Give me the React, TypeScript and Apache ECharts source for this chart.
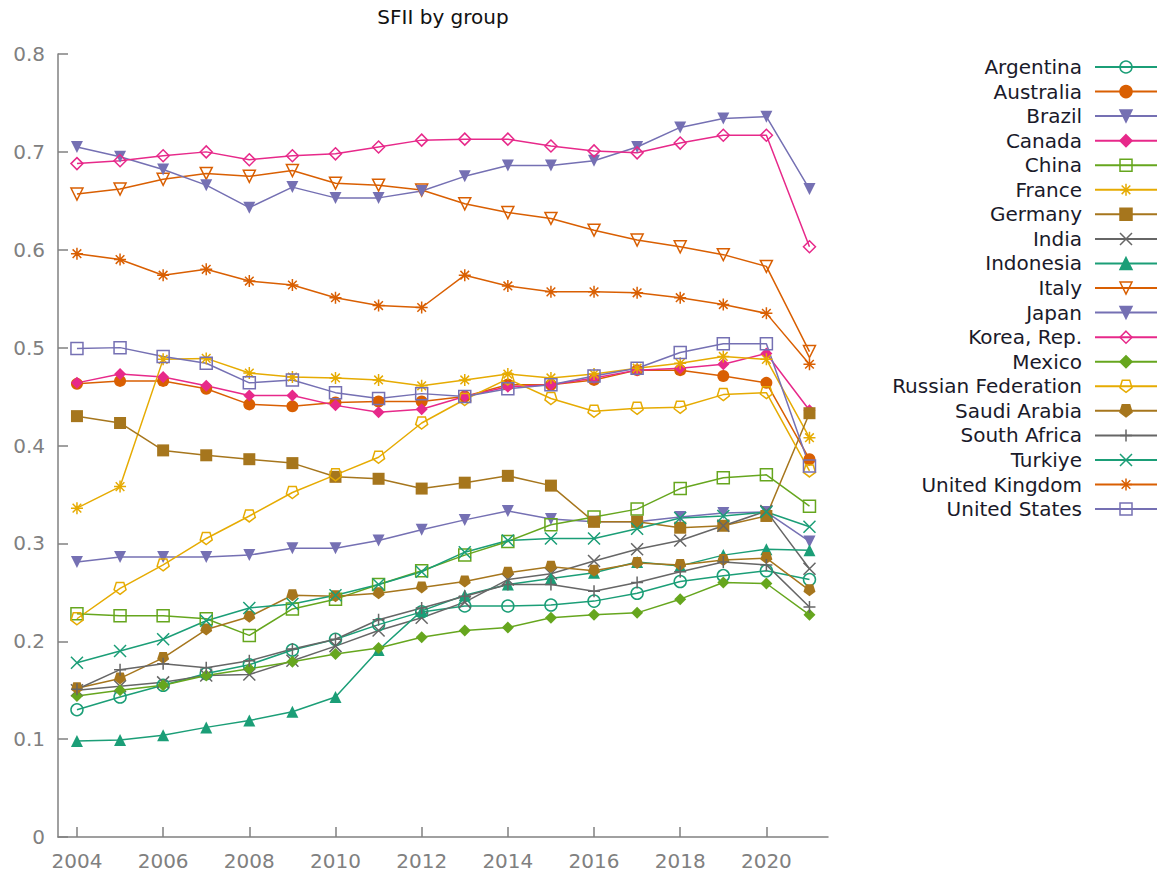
import React, { useEffect, useRef } from 'react';
import * as echarts from 'echarts';

const years = [2004, 2005, 2006, 2007, 2008, 2009, 2010, 2011, 2012, 2013, 2014, 2015, 2016, 2017, 2018, 2019, 2020, 2021];
const xTickValues = [2004, 2006, 2008, 2010, 2012, 2014, 2016, 2018, 2020];

const argentina = [0.130, 0.143, 0.155, 0.167, 0.176, 0.191, 0.202, 0.217, 0.230, 0.236, 0.236, 0.237, 0.241, 0.249, 0.261, 0.267, 0.272, 0.263];
const australia = [0.463, 0.466, 0.466, 0.458, 0.442, 0.440, 0.444, 0.445, 0.445, 0.450, 0.462, 0.462, 0.467, 0.477, 0.477, 0.471, 0.464, 0.386];
const brazil = [0.281, 0.286, 0.286, 0.286, 0.288, 0.295, 0.295, 0.303, 0.314, 0.324, 0.333, 0.325, 0.322, 0.322, 0.327, 0.331, 0.332, 0.302];
const canada = [0.464, 0.473, 0.470, 0.461, 0.451, 0.451, 0.441, 0.434, 0.437, 0.450, 0.460, 0.462, 0.469, 0.477, 0.479, 0.483, 0.494, 0.436];
const china = [0.228, 0.226, 0.226, 0.223, 0.206, 0.233, 0.243, 0.258, 0.272, 0.288, 0.302, 0.319, 0.327, 0.335, 0.356, 0.367, 0.370, 0.338];
const france = [0.336, 0.358, 0.488, 0.489, 0.474, 0.470, 0.469, 0.467, 0.461, 0.467, 0.473, 0.469, 0.473, 0.479, 0.484, 0.491, 0.488, 0.408];
const germany = [0.430, 0.423, 0.395, 0.390, 0.386, 0.382, 0.368, 0.366, 0.356, 0.362, 0.369, 0.359, 0.322, 0.322, 0.316, 0.318, 0.328, 0.433];
const india = [0.150, 0.154, 0.158, 0.165, 0.166, 0.180, 0.195, 0.211, 0.224, 0.240, 0.263, 0.269, 0.282, 0.294, 0.303, 0.318, 0.333, 0.274];
const indonesia = [0.098, 0.099, 0.104, 0.112, 0.119, 0.128, 0.143, 0.191, 0.231, 0.247, 0.258, 0.264, 0.270, 0.281, 0.277, 0.288, 0.294, 0.293];
const italy = [0.657, 0.662, 0.672, 0.678, 0.675, 0.681, 0.668, 0.666, 0.661, 0.647, 0.638, 0.632, 0.620, 0.610, 0.603, 0.595, 0.583, 0.496];
const japan = [0.705, 0.695, 0.682, 0.666, 0.643, 0.664, 0.653, 0.653, 0.660, 0.675, 0.686, 0.686, 0.691, 0.705, 0.725, 0.734, 0.736, 0.662];
const korea = [0.688, 0.691, 0.696, 0.700, 0.692, 0.696, 0.698, 0.705, 0.712, 0.713, 0.713, 0.706, 0.701, 0.699, 0.709, 0.717, 0.717, 0.603];
const mexico = [0.144, 0.150, 0.155, 0.165, 0.172, 0.179, 0.187, 0.193, 0.204, 0.211, 0.214, 0.224, 0.227, 0.229, 0.243, 0.260, 0.259, 0.227];
const russia = [0.223, 0.254, 0.278, 0.305, 0.328, 0.352, 0.370, 0.388, 0.423, 0.447, 0.468, 0.448, 0.435, 0.438, 0.439, 0.452, 0.454, 0.374];
const saudi = [0.152, 0.162, 0.183, 0.212, 0.225, 0.247, 0.246, 0.249, 0.255, 0.261, 0.270, 0.276, 0.272, 0.280, 0.278, 0.283, 0.285, 0.252];
const southAfrica = [0.151, 0.171, 0.177, 0.173, 0.180, 0.192, 0.202, 0.222, 0.234, 0.246, 0.258, 0.258, 0.251, 0.260, 0.271, 0.281, 0.278, 0.235];
const turkiye = [0.178, 0.190, 0.202, 0.221, 0.234, 0.238, 0.247, 0.258, 0.271, 0.291, 0.303, 0.305, 0.305, 0.315, 0.326, 0.328, 0.332, 0.317];
const uk = [0.596, 0.590, 0.574, 0.580, 0.568, 0.564, 0.551, 0.543, 0.541, 0.574, 0.563, 0.557, 0.557, 0.556, 0.551, 0.544, 0.535, 0.483];
const us = [0.499, 0.500, 0.491, 0.484, 0.464, 0.467, 0.454, 0.448, 0.453, 0.450, 0.458, 0.462, 0.471, 0.479, 0.495, 0.504, 0.504, 0.379];

const seriesNames = ['Argentina', 'Australia', 'Brazil', 'Canada', 'China', 'France', 'Germany', 'India', 'Indonesia', 'Italy', 'Japan', 'Korea, Rep.', 'Mexico', 'Russian Federation', 'Saudi Arabia', 'South Africa', 'Turkiye', 'United Kingdom', 'United States'];
const seriesValues = [argentina, australia, brazil, canada, china, france, germany, india, indonesia, italy, japan, korea, mexico, russia, saudi, southAfrica, turkiye, uk, us];

const C = {
  teal: '#1b9e77', orange: '#d95f02', purple: '#7570b3', pink: '#e7298a',
  green: '#66a61e', yellow: '#e6ab02', brown: '#a6761d', gray: '#666666',
};
const seriesColors = [C.teal, C.orange, C.purple, C.pink, C.green, C.yellow, C.brown, C.gray, C.teal, C.orange, C.purple, C.pink, C.green, C.yellow, C.brown, C.gray, C.teal, C.orange, C.purple];

const SYM = {
  asterisk: 'path://M0,-1L0,1M-1,0L1,0M-0.72,-0.72L0.72,0.72M-0.72,0.72L0.72,-0.72',
  cross: 'path://M-1,-1L1,1M-1,1L1,-1',
  plus: 'path://M0,-1L0,1M-1,0L1,0',
  pentagon: 'path://M0,1L0.951,0.309L0.588,-0.809L-0.588,-0.809L-0.951,0.309Z',
  down: 'path://M-1,-0.8L1,-0.8L0,0.9Z',
};
// [symbol, filled]
const seriesMarkers: [string, boolean][] = [
  ['circle', false], ['circle', true], [SYM.down, true], ['diamond', true], ['rect', false],
  [SYM.asterisk, false], ['rect', true], [SYM.cross, false], ['triangle', true], [SYM.down, false],
  [SYM.down, true], ['diamond', false], ['diamond', true], [SYM.pentagon, false], [SYM.pentagon, true],
  [SYM.plus, false], [SYM.cross, false], [SYM.asterisk, false], ['rect', false],
];

const FONT = 'DejaVu Sans';

export default function App() {
  const ref = useRef<HTMLDivElement>(null);
  useEffect(() => {
    document.body.style.margin = '0';
    if (!ref.current) return;
    const chart = echarts.init(ref.current, undefined, { renderer: 'svg' });
    const series = seriesNames.map((name, i) => {
      const color = seriesColors[i];
      const [symbol, filled] = seriesMarkers[i];
      return {
        name,
        type: 'line',
        data: years.map((y, j) => [y, seriesValues[i][j]]),
        symbol,
        symbolSize: 12,
        showSymbol: true,
        lineStyle: { color, width: 1.5 },
        itemStyle: {
          color: filled ? color : 'rgba(255,255,255,0)',
          borderColor: color,
          borderWidth: filled ? 0 : 1.5,
        },
        emphasis: { disabled: true },
      };
    });
    chart.setOption({
      animation: false,
      title: {
        text: 'SFII by group',
        left: 443,
        textAlign: 'center',
        top: 7,
        padding: 0,
        textStyle: { fontFamily: FONT, fontSize: 20, fontWeight: 'normal', color: '#111' },
      },
      legend: {
        orient: 'vertical',
        right: 4,
        top: 57,
        padding: 0,
        align: 'right',
        itemWidth: 62,
        itemHeight: 15,
        itemGap: 4.56,
        icon: undefined,
        itemStyle: { borderWidth: 1.5 },
        textStyle: { fontFamily: FONT, fontSize: 20, lineHeight: 20, color: '#1a1a2a', padding: [0, 8, 0, 0] },
        data: seriesNames,
      },
      grid: { left: 58, right: 334, top: 54, bottom: 40, containLabel: false, outerBoundsMode: 'none' },
      xAxis: {
        type: 'value',
        min: 2003.56,
        max: 2021.43,
        splitLine: { show: false },
        axisLine: { lineStyle: { color: '#808080', width: 1.5 } },
        axisTick: { inside: true, length: 10, customValues: xTickValues, lineStyle: { color: '#808080', width: 1.5 } },
        axisLabel: {
          customValues: xTickValues,
          formatter: (v: number) => String(v),
          margin: 14,
          fontFamily: FONT, fontSize: 20, color: '#808080',
        },
      },
      yAxis: {
        type: 'value',
        min: 0,
        max: 0.8,
        interval: 0.1,
        splitLine: { show: false },
        axisLine: { show: true, lineStyle: { color: '#808080', width: 1.5 } },
        axisTick: { show: true, inside: true, length: 10, lineStyle: { color: '#808080', width: 1.5 } },
        axisLabel: { margin: 13, fontFamily: FONT, fontSize: 20, color: '#808080' },
      },
      series,
    });
    return () => chart.dispose();
  }, []);
  return <div ref={ref} style={{ width: 1162, height: 877 }} />;
}
